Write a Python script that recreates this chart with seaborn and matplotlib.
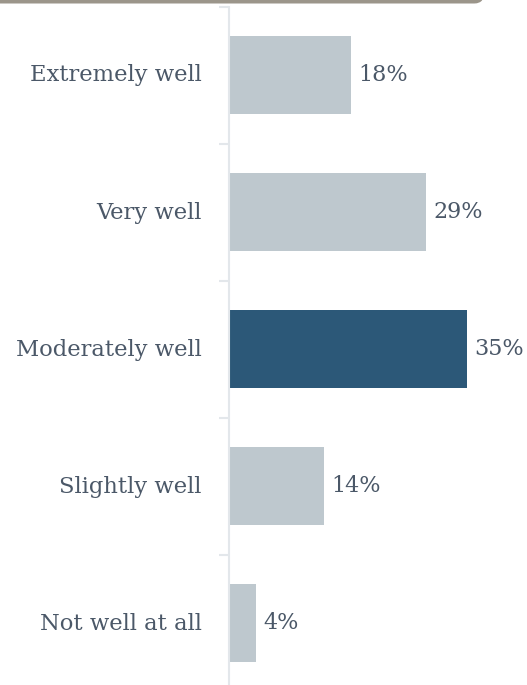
import matplotlib
matplotlib.use("Agg")
import matplotlib.pyplot as plt
from matplotlib.patches import FancyBboxPatch
from matplotlib.ticker import FixedLocator
from matplotlib.transforms import ScaledTranslation
import seaborn as sns
import pandas as pd

categories = ["Extremely well", "Very well", "Moderately well", "Slightly well", "Not well at all"]
values = [18, 29, 35, 14, 4]
labels = ["18%", "29%", "35%", "14%", "4%"]
highlight = "Moderately well"

base_color = "#bec8ce"
accent_color = "#2c5878"
text_color = "#4b5868"
spine_color = "#e3e7eb"

df = pd.DataFrame({"category": categories, "value": values})
palette = {c: (accent_color if c == highlight else base_color) for c in categories}

sns.set_theme(style="white")
plt.rcParams["font.family"] = ["DejaVu Serif"]

fig = plt.figure(figsize=(5.27, 6.85), dpi=100)
W, H = 527, 685
ax = fig.add_axes([228.5 / W, 0, (W - 228.5) / W, (H - 6.5) / H])

sns.barplot(data=df, y="category", x="value", hue="category", palette=palette,
            order=categories, orient="h", width=0.57, legend=False, ax=ax,
            edgecolor="none", saturation=1)

ax.set_xlim(0, (W - 229) / 6.8)
ax.set_ylim(4.45, -0.5)
ax.set_xlabel("")
ax.set_ylabel("")
ax.set_xticks([])

for i, (v, lab) in enumerate(zip(values, labels)):
    ax.annotate(lab, xy=(v, i), xytext=(5.5, 0), textcoords="offset points",
                ha="left", va="center", fontsize=16, color=text_color)

# category labels at bar centres, tick marks at category boundaries
ax.set_yticks(range(len(categories)))
ax.set_yticklabels(categories, fontsize=16.3, color=text_color)
ax.tick_params(axis="y", which="major", length=0, pad=19.5)
nudge = ScaledTranslation(0, 1.5 / 72, fig.dpi_scale_trans)
for t in ax.get_yticklabels():
    t.set_transform(t.get_transform() + nudge)
ax.yaxis.set_minor_locator(FixedLocator([i - 0.5 for i in range(len(categories))]))
ax.tick_params(axis="y", which="minor", left=True, length=7, width=1.5, color=spine_color)

for s in ["top", "right", "bottom"]:
    ax.spines[s].set_visible(False)
ax.spines["left"].set_color(spine_color)
ax.spines["left"].set_linewidth(1.5)

# header strip along the top edge
fig.patches.append(FancyBboxPatch((-20 / W, 1 - 3.5 / H), 505 / W, 0.05,
                                  boxstyle="round,pad=0,rounding_size=0.02",
                                  transform=fig.transFigure, facecolor="#9b958a",
                                  edgecolor="none", zorder=5, clip_on=False))

fig.savefig("out.png", dpi=100)
